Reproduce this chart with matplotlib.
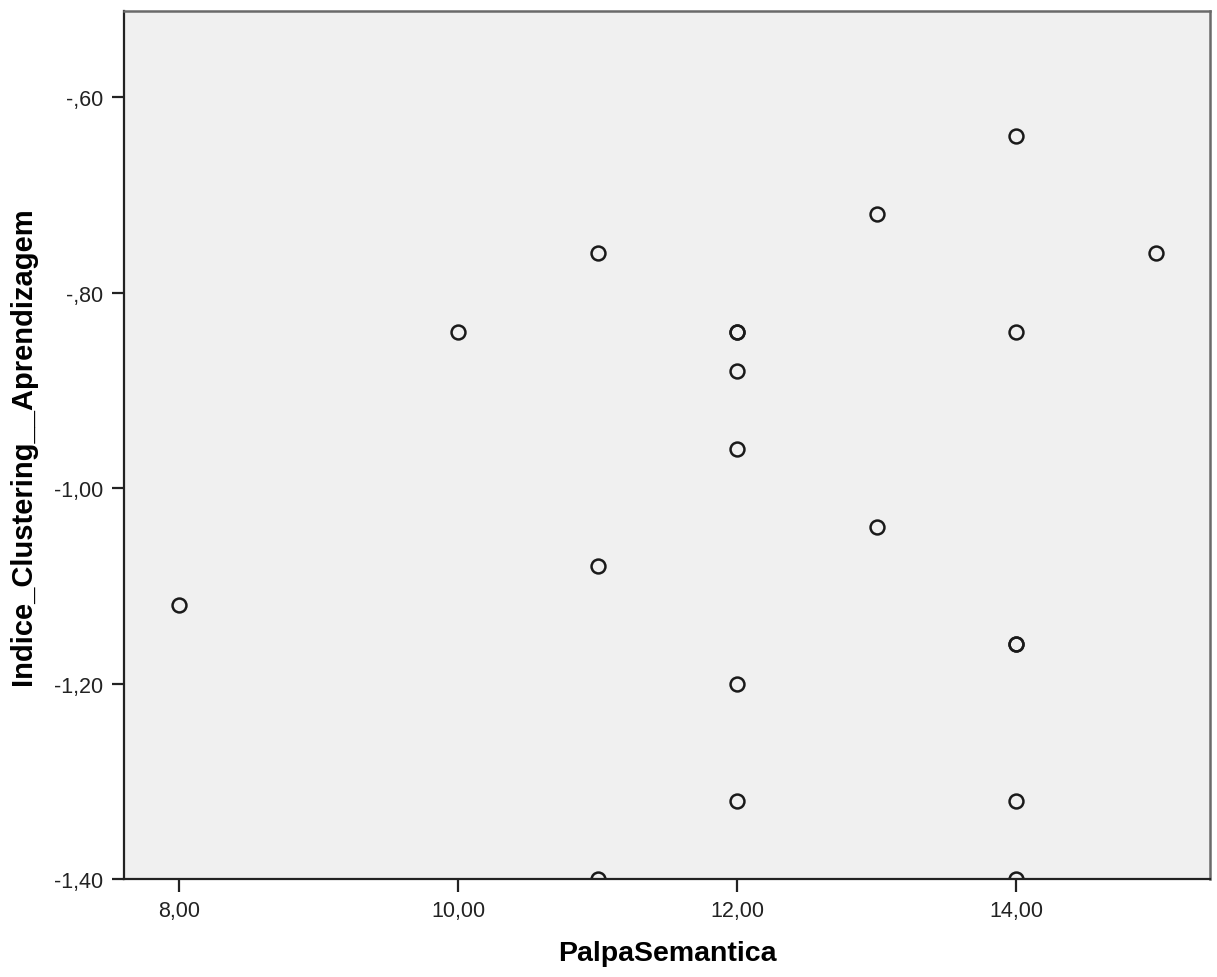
import matplotlib
matplotlib.use("Agg")
from matplotlib import pyplot as plt
from matplotlib.ticker import FixedLocator, FuncFormatter

# PalpaSemantica vs Indice_Clustering__Aprendizagem
palpa = [8, 10, 11, 11, 11, 12, 12, 12, 12, 12, 12, 13, 13, 14, 14, 14, 14, 14, 14, 15]
indice = [-1.12, -0.84, -0.76, -1.08, -1.40, -0.84, -0.84, -0.88, -0.96, -1.20, -1.32,
          -0.72, -1.04, -0.64, -0.84, -1.16, -1.16, -1.32, -1.40, -0.76]

x_ticks = [8, 10, 12, 14]
y_ticks = [-0.60, -0.80, -1.00, -1.20, -1.40]

plt.rcParams['font.family'] = ['Liberation Sans', 'DejaVu Sans']


def spss_fmt(v, pos=None):
    s = f"{v:.2f}".replace('.', ',')
    if s.startswith('-0,'):
        s = '-' + s[2:]
    elif s.startswith('0,'):
        s = s[1:]
    return s


fig = plt.figure(figsize=(12.17, 9.78), dpi=100)
ax = fig.add_axes([0.1019, 0.1002, 0.8923, 0.8875])
ax.set_facecolor('#f0f0f0')

ax.plot(palpa, indice, 'o', markersize=10, markerfacecolor='none',
        markeredgecolor='#1a1a1a', markeredgewidth=1.8, clip_on=True)

ax.set_xlim(7.606, 15.39)
ax.set_ylim(-1.40, -0.512)

ax.xaxis.set_major_locator(FixedLocator(x_ticks))
ax.yaxis.set_major_locator(FixedLocator(y_ticks))
ax.xaxis.set_major_formatter(FuncFormatter(spss_fmt))
ax.yaxis.set_major_formatter(FuncFormatter(spss_fmt))
ax.tick_params(direction='out', length=9, width=1.6, color='#222222',
               labelsize=15.5, labelcolor='#222222', pad=6)

for side in ['left', 'bottom']:
    ax.spines[side].set_color('#222222')
    ax.spines[side].set_linewidth(1.6)
for side in ['top', 'right']:
    ax.spines[side].set_color('#6a6a6a')
    ax.spines[side].set_linewidth(1.8)

ax.set_xlabel('PalpaSemantica', fontsize=20.5, fontweight='bold', labelpad=14)
ax.set_ylabel('Indice_Clustering__Aprendizagem', fontsize=21, fontweight='bold', labelpad=12)

plt.savefig('out.png', dpi=100, facecolor='white')
